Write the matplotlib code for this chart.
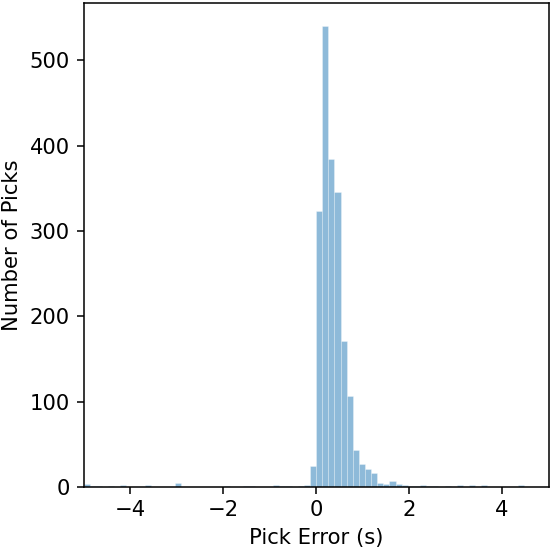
#...............................................................
# histogram of pick errors
#...............................................................
import numpy as np
import matplotlib
matplotlib.use("Agg")
import matplotlib.pyplot as plt

#...............................................................
# data: counts, 76 equal bins over [-5, 5]
x_min, x_max = -5.0, 5.0
n_bins = 76
counts = [3, 1, 1, 0, 1, 0, 2, 0, 0, 0,
          2, 0, 0, 0, 0, 5, 0, 0, 0, 0,
          0, 0, 0, 1, 0, 0, 1, 1, 0, 0,
          0, 2, 1, 1, 0, 1, 2, 25, 323, 540,
          384, 346, 171, 107, 43, 27, 21, 17, 5, 3,
          7, 3, 2, 1, 1, 2, 1, 1, 0, 1,
          0, 2, 0, 2, 0, 2, 0, 0, 0, 0,
          0, 2, 0, 0, 0, 0]

edges = np.linspace(x_min, x_max, n_bins + 1)
centers = 0.5 * (edges[:-1] + edges[1:])

#...............................................................
# plot  (reference looks like a ~138 dpi render)
dpi = 138.25
plt.rcParams["font.size"] = 11
fig, ax = plt.subplots(figsize=(553 / dpi, 550 / dpi), dpi=dpi)
fig.subplots_adjust(left=0.151, right=0.992, top=0.9945, bottom=0.1145)

ax.hist(centers, bins=edges, weights=counts, color="C0", alpha=0.5,
        edgecolor="white", linewidth=0.3)

ax.set_xlim(x_min, x_max)
ax.set_xlabel("Pick Error (s)")
ax.set_ylabel("Number of Picks")

fig.savefig("out.png", dpi=dpi)
